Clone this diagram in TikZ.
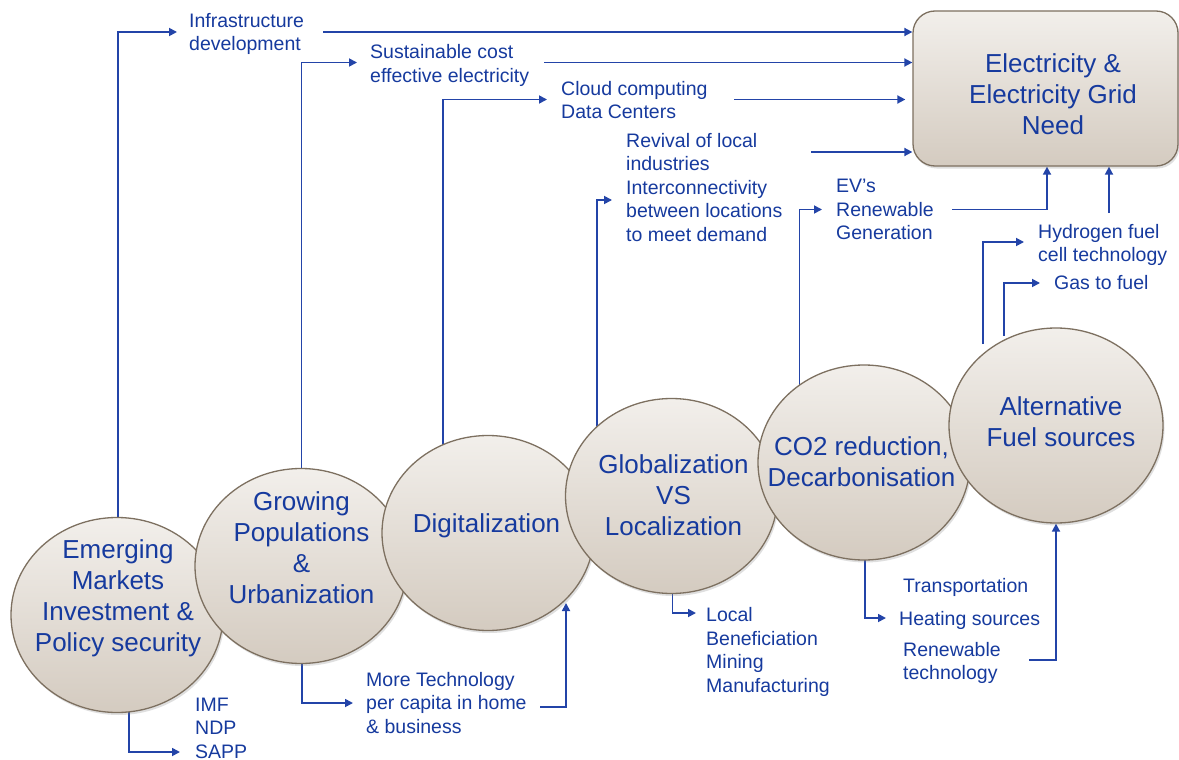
\documentclass[tikz,border=0pt]{standalone}
\usepackage{fontspec}
\setmainfont{Liberation Sans}
\usetikzlibrary{shapes.geometric,shadows,arrows.meta,backgrounds,calc}
\definecolor{txtblue}{RGB}{22,58,158}
\definecolor{lineblue}{RGB}{35,68,168}
\definecolor{ctop}{RGB}{242,239,235}
\definecolor{cbot}{RGB}{212,203,192}
\definecolor{cedge}{RGB}{125,112,96}
\begin{document}
\begin{tikzpicture}[x=1pt,y=-1pt,
  bubble/.style={ellipse, minimum width=212pt, minimum height=195pt, inner sep=0pt,
    draw=cedge, line width=1.3pt, top color=ctop, bottom color=cbot,
    drop shadow={opacity=0.25, shadow xshift=1.5pt, shadow yshift=-2.5pt}},
  gridbox/.style={rectangle, rounded corners=22pt, minimum width=265pt, minimum height=155pt,
    inner sep=0pt, draw=cedge, line width=1.3pt, top color=ctop, bottom color=cbot,
    drop shadow={opacity=0.25, shadow xshift=1.5pt, shadow yshift=-2.5pt}},
  ttl/.style={font=\fontsize{26}{31}\selectfont, text=txtblue, align=center, inner sep=0pt},
  lbl/.style={font=\fontsize{19.5}{23.5}\selectfont, text=txtblue, align=left, inner sep=0pt, anchor=west},
  arr/.style={draw=lineblue, line width=1.7pt, -{Triangle[length=8pt,width=8pt]}}
]
\useasboundingbox (0,0) rectangle (1179,760);

% main box
\node[gridbox] (box) at (1045.5,88.5) {};
\node[ttl] (boxtxt) at (1053,94) {Electricity \&\\Electricity Grid\\Need};

% bubbles
\node[bubble] (e1) at (117,615) {};
\node[bubble] (e2) at (301,566) {};
\node[bubble] (e3) at (488,533) {};
\node[bubble] (e4) at (671.5,496) {};
\node[bubble] (e5) at (864,462.5) {};
\node[bubble, minimum width=214pt] (e6) at (1056,425.5) {};

\node[ttl] (t1) at (118,598.5) {Emerging\\Markets\\Investment \&\\Policy security};
\node[ttl] (t2) at (301.5,548) {Growing\\Populations\\\&\\Urbanization};
\node[ttl] (t3) at (486.5,525.5) {Digitalization};
\node[ttl] (t4) at (673.5,495) {Globalization\\VS\\Localization};
\node[ttl] (t5) at (861.5,462) {CO2 reduction,\\Decarbonisation};
\node[ttl] (t6) at (1061,421.5) {Alternative\\Fuel sources};

% labels
\node[lbl] (inf) at (189,34) {Infrastructure\\development};
\node[lbl] (sus) at (370,65.5) {Sustainable cost\\effective electricity};
\node[lbl] (cloud) at (561,100) {Cloud computing\\Data Centers};
\node[lbl] (rev) at (626,187.5) {Revival of local\\industries\\Interconnectivity\\between locations\\to meet demand};
\node[lbl] (ev) at (836,209.5) {EV’s\\Renewable\\Generation};
\node[lbl] (hyd) at (1038,245) {Hydrogen fuel\\cell technology};
\node[lbl] (gas) at (1054,283) {Gas to fuel};
\node[lbl] (imf) at (195,728) {IMF\\NDP\\SAPP};
\node[lbl] (more) at (366,703) {More Technology\\per capita in home\\\& business};
\node[lbl] (local) at (706,652) {Local\\Beneficiation\\Mining\\Manufacturing};
\node[lbl] (trans) at (903,587) {Transportation};
\node[lbl] (heat) at (899,620) {Heating sources};
\node[lbl] (rent) at (903,663) {Renewable\\technology};

% connector end points
\coordinate (a1) at (177,32);
\coordinate (b1) at (323,32);
\coordinate (a2) at (357,62.5);
\coordinate (b2) at (544,62.5);
\coordinate (a3) at (547,99.5);
\coordinate (b3) at (734,99.5);
\coordinate (a4) at (612,200);
\coordinate (b4) at (811,152);
\coordinate (a5) at (822,209.5);
\coordinate (b5) at (952,209.5);
\coordinate (b6) at (1109,213);
\coordinate (c6a) at (983,344);
\coordinate (a6) at (1024,242);
\coordinate (c6b) at (1004,336);
\coordinate (a7) at (1040,283);
\coordinate (a8) at (180,752);
\coordinate (a9) at (353,703);
\coordinate (b9) at (540,707);
\coordinate (a10) at (566,603);
\coordinate (a11) at (696,613);
\coordinate (a12) at (886,618);
\coordinate (b13) at (1029,660);

\begin{pgfonlayer}{background}
\fill[white] (0,0) rectangle (1179,760);
\draw[arr] ([xshift=1pt]e1.center) |- (a1);
\draw[arr] (b1) -- (b1 -| box.west);
\draw[arr] ([xshift=0.5pt]e2.center) |- (a2);
\draw[arr] (b2) -- (b2 -| box.west);
\draw[arr] ([xshift=-45pt]e3.center) |- (a3);
\draw[arr] (b3) -- ([xshift=-7pt]b3 -| box.west);
\draw[arr] ([xshift=-74.5pt]e4.center) |- (a4);
\draw[arr] (b4) -- (b4 -| box.west);
\draw[arr] ([xshift=-64.5pt]e5.center) |- (a5);
\draw[arr] (b5) -| ([xshift=1.5pt]box.south);
\draw[arr] (b6) -- (b6 |- box.south);
\draw[arr] (c6a) |- (a6);
\draw[arr] (c6b) |- (a7);
\draw[arr] ([xshift=12pt]e1.center) |- (a8);
\draw[arr] ([xshift=1pt]e2.center) |- (a9);
\draw[arr] (b9) -| (a10);
\draw[arr] ([xshift=1pt]e4.center) |- (a11);
\draw[arr] ([xshift=1pt]e5.center) |- (a12);
\draw[arr] (b13) -| (e6.south);
\end{pgfonlayer}
\end{tikzpicture}
\end{document}
